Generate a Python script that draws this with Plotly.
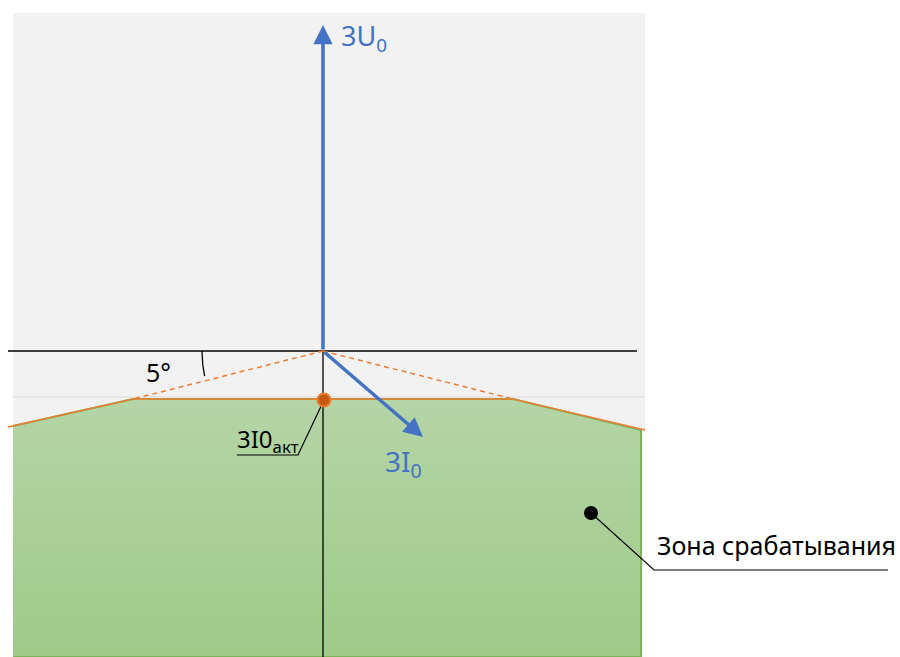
import numpy as np
import plotly.graph_objects as go

# diagram coordinates are in pixels of the 900x657 canvas (y grows downward)
origin = (323, 351)

# phasor end points
u0_end = (323, 25)
i0_end = (423, 437)

# tripping zone outline (orange boundary)
zone_x = [13, 133, 513, 641, 641, 13]
zone_y = [426, 399, 399, 430, 657, 657]
boundary_x = [8, 133, 513, 645]
boundary_y = [427, 399, 399, 430]

# dashed 5 degree lines from the origin to the knee points
dash_left = ([323, 133], [351, 399])
dash_right = ([323, 513], [351, 399])

# operating point 3I0akt
i0_act = (324, 400)
zone_dot = (591, 513)

BLUE = "#4472c4"
ORANGE = "#ed7d31"
FONT = "Noto Sans"

fig = go.Figure()

# grey background plane
fig.add_shape(type="rect", x0=13, x1=645, y0=13, y1=432,
              fillcolor="#f2f2f2", line_width=0, layer="below")
fig.add_shape(type="line", x0=13, x1=645, y0=397, y1=397,
              line=dict(color="#dcdcd6", width=1), layer="below")

# tripping zone with vertical gradient
fig.add_trace(go.Scatter(
    x=zone_x, y=zone_y, mode="lines", fill="toself",
    line=dict(color="#7cb45c", width=2),
    fillgradient=dict(type="vertical", start=399, stop=657,
                      colorscale=[[0, "#b4d5a6"], [1, "#9fca88"]]),
    hoverinfo="skip"))

# axes of the diagram
fig.add_trace(go.Scatter(x=[8, 637], y=[351, 351], mode="lines",
                         line=dict(color="black", width=1.3), hoverinfo="skip"))
fig.add_trace(go.Scatter(x=[323, 323], y=[351, 657], mode="lines",
                         line=dict(color="black", width=1.3), hoverinfo="skip"))

# boundary and dashed 5 deg lines
fig.add_trace(go.Scatter(x=boundary_x, y=boundary_y, mode="lines",
                         line=dict(color=ORANGE, width=1.5), hoverinfo="skip"))
for dx, dy in (dash_left, dash_right):
    fig.add_trace(go.Scatter(x=dx, y=dy, mode="lines",
                             line=dict(color=ORANGE, width=1.5, dash="5px,4px"),
                             hoverinfo="skip"))

# angle arc
t = np.radians(np.linspace(180, 192, 20))
fig.add_trace(go.Scatter(x=origin[0] + 121 * np.cos(t), y=origin[1] - 121 * np.sin(t),
                         mode="lines", line=dict(color="black", width=1.3),
                         hoverinfo="skip"))

# leader lines
fig.add_trace(go.Scatter(x=[i0_act[0], 298, 237], y=[i0_act[1], 455, 455], mode="lines",
                         line=dict(color="black", width=1.2), hoverinfo="skip"))
fig.add_trace(go.Scatter(x=[zone_dot[0], 654, 888], y=[zone_dot[1], 570, 570], mode="lines",
                         line=dict(color="black", width=1.2), hoverinfo="skip"))

# markers
fig.add_trace(go.Scatter(x=[i0_act[0]], y=[i0_act[1]], mode="markers",
                         marker=dict(size=13, color="#c65911", line=dict(color=ORANGE, width=2)),
                         hoverinfo="skip"))
fig.add_trace(go.Scatter(x=[zone_dot[0]], y=[zone_dot[1]], mode="markers",
                         marker=dict(size=14, color="black"), hoverinfo="skip"))

# phasor arrows
for end in (u0_end, i0_end):
    fig.add_annotation(x=end[0], y=end[1], ax=origin[0], ay=origin[1],
                       xref="x", yref="y", axref="x", ayref="y", text="",
                       showarrow=True, arrowhead=2, arrowsize=1.1, arrowwidth=3.5,
                       arrowcolor=BLUE)

labels = [
    (339, 37, "3U<sub>0</sub>", BLUE, 27),
    (383, 463, "3I<sub>0</sub>", BLUE, 28),
    (235, 440, "3I0<sub>акт</sub>", "black", 24),
    (144, 372, "5°", "black", 25),
    (655, 545, "Зона срабатывания", "black", 25),
]
for x, y, txt, col, size in labels:
    fig.add_annotation(x=x, y=y, xref="x", yref="y", text=txt, showarrow=False,
                       xanchor="left", yanchor="middle",
                       font=dict(family=FONT, size=size, color=col))

fig.update_xaxes(range=[0, 900], visible=False, fixedrange=True)
fig.update_yaxes(range=[657, 0], visible=False, fixedrange=True)
fig.update_layout(
    width=900, height=657,
    margin=dict(l=0, r=0, t=0, b=0),
    showlegend=False,
    plot_bgcolor="white",
    paper_bgcolor="white",
)

fig.write_html("out.html", config={"displayModeBar": False},
               post_script="document.body.style.margin='0';")
